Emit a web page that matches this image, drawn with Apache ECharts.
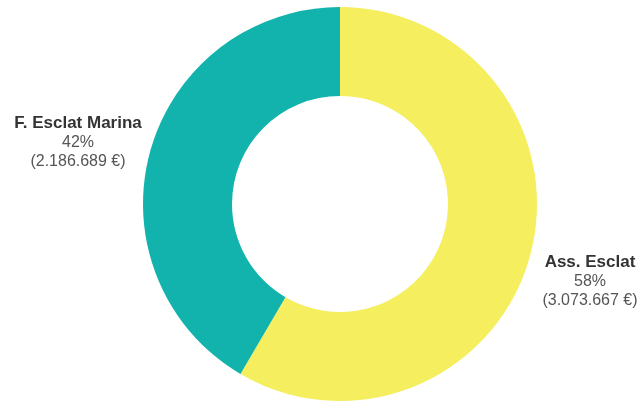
<!DOCTYPE html>
<html>
<head>
<meta charset="utf-8">
<script src="https://cdn.jsdelivr.net/npm/echarts@6/dist/echarts.min.js"></script>
<style>html,body{margin:0;padding:0;background:#fff;}#c{width:641px;height:401px;}</style>
</head>
<body>
<div id="c"></div>
<script>
var categories = ['Ass. Esclat', 'F. Esclat Marina'];
var values = [3073667, 2186689];
var colors = ['#f5ee5f', '#13b3ad'];
var labelSpots = [[590, 281], [78, 142]];

function fmt(n) {
  return String(n).replace(/\B(?=(\d{3})+(?!\d))/g, '.');
}

var chart = echarts.init(document.getElementById('c'));
chart.setOption({
  animation: false,
  series: [{
    type: 'pie',
    center: [340, 204],
    radius: [108, 197],
    startAngle: 90,
    clockwise: true,
    data: categories.map(function (c, i) {
      return { name: c, value: values[i], itemStyle: { color: colors[i] } };
    }),
    label: {
      show: true,
      position: 'outside',
      overflow: 'none',
      width: 200,
      formatter: function (p) {
        return '{b|' + p.name + '}\n{p|' + Math.round(p.percent) + '%}\n{v|(' + fmt(p.value) + ' €)}';
      },
      rich: {
        b: { fontFamily: 'Liberation Sans, Arial, sans-serif', fontSize: 17, fontWeight: 'bold', color: '#333', lineHeight: 20, align: 'center' },
        p: { fontFamily: 'Liberation Sans, Arial, sans-serif', fontSize: 16, color: '#555', lineHeight: 19, align: 'center' },
        v: { fontFamily: 'Liberation Sans, Arial, sans-serif', fontSize: 16, color: '#555', lineHeight: 19, align: 'center' }
      }
    },
    labelLine: { show: false },
    labelLayout: function (params) {
      var s = labelSpots[params.dataIndex];
      return { x: s[0], y: s[1], align: 'center', verticalAlign: 'middle' };
    },
    emphasis: { disabled: true }
  }]
});
</script>
</body>
</html>
